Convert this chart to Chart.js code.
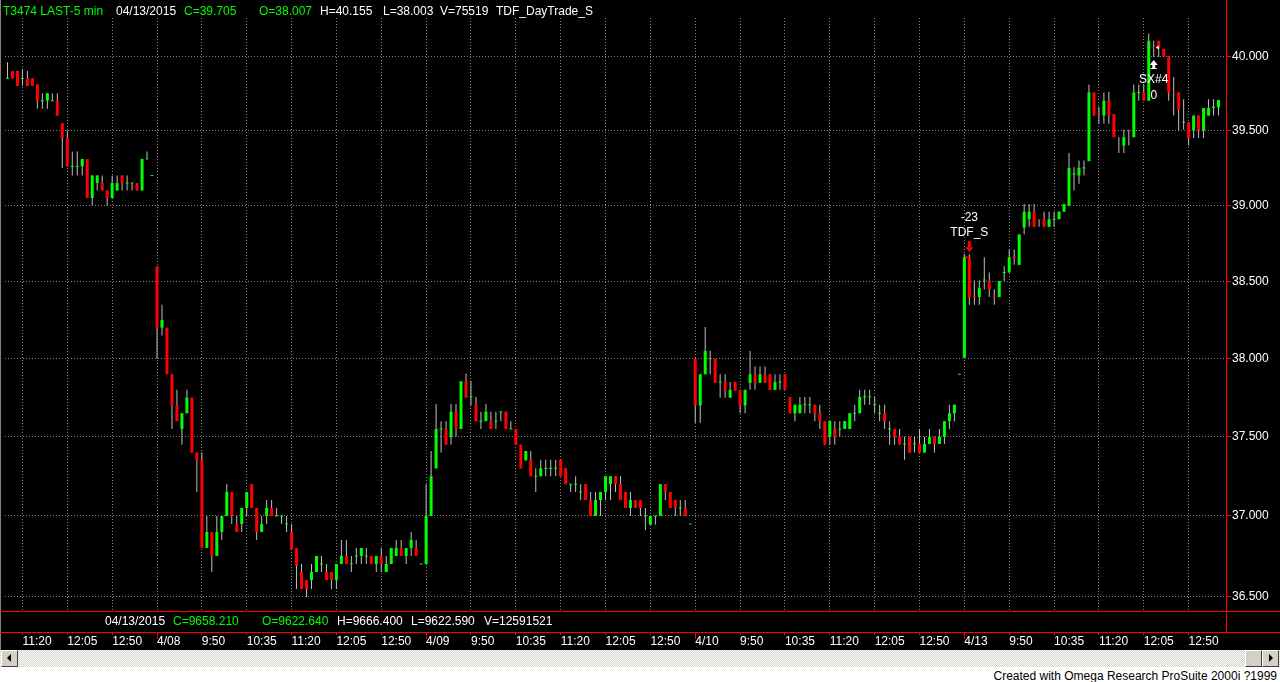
<!DOCTYPE html>
<html>
<head>
<meta charset="utf-8">
<title>T3474 LAST-5 min</title>
<script src="https://cdn.jsdelivr.net/npm/chart.js@4.4.1/dist/chart.umd.min.js"></script>
<style>
  body { margin: 0; background: #fff; font-family: "Liberation Sans", Arial, sans-serif; font-size: 12px; }
  #wrap { position: relative; width: 1280px; height: 682px; overflow: hidden; }
  #screen { position: absolute; left: 0; top: 0; width: 1280px; height: 650px; background: #000; }
  #priceChart { position: absolute; left: 0; top: 0; }
  .txt { position: absolute; line-height: 14px; white-space: nowrap; color: #fff; }
  .g { color: #00ff00; }
  .redh { position: absolute; left: 0; width: 1280px; height: 1px; background: #ff0000; }
  .redv { position: absolute; left: 1226px; top: 0; width: 1px; height: 633px; background: #ff0000; }
  .frame { position: absolute; left: 0; top: 0; width: 1px; height: 650px; background: #808080; }
  #scroll { position: absolute; left: 0; top: 650px; width: 1280px; height: 17px;
    background: repeating-conic-gradient(#d4d0c8 0 25%, #ffffff 0 50%) 0 0 / 2px 2px; }
  .btn { position: absolute; top: 0; width: 15px; height: 15px; background: #d4d0c8;
    border: 1px solid; border-color: #ffffff #404040 #404040 #ffffff; }
  .arrl { position: absolute; left: 5px; top: 3px; width: 0; height: 0; border-style: solid;
    border-width: 4px 4px 4px 0; border-color: transparent #000 transparent transparent; }
  .arrr { position: absolute; left: 6px; top: 3px; width: 0; height: 0; border-style: solid;
    border-width: 4px 0 4px 4px; border-color: transparent transparent transparent #000; }
  #credit { position: absolute; right: 3px; top: 669px; color: #000; line-height: 14px; white-space: nowrap; }
</style>
</head>
<body>
<div id="wrap">
  <div id="screen"></div>
  <canvas id="priceChart" width="1280" height="650"></canvas>
  <div class="frame"></div>
  <div class="redh" style="top:611px"></div>
  <div class="redh" style="top:632px"></div>
  <div class="redv"></div>

  <div class="txt g" style="left:3px;top:4px">T3474 LAST-5 min</div>
  <div class="txt" style="left:116px;top:4px">04/13/2015</div>
  <div class="txt g" style="left:184px;top:4px">C=39.705</div>
  <div class="txt g" style="left:259px;top:4px">O=38.007</div>
  <div class="txt" style="left:320px;top:4px">H=40.155</div>
  <div class="txt" style="left:383px;top:4px">L=38.003</div>
  <div class="txt" style="left:440px;top:4px">V=75519</div>
  <div class="txt" style="left:496px;top:4px">TDF_DayTrade_S</div>

  <div class="txt" style="left:105px;top:614px">04/13/2015</div>
  <div class="txt g" style="left:173px;top:614px">C=9658.210</div>
  <div class="txt g" style="left:262px;top:614px">O=9622.640</div>
  <div class="txt" style="left:337px;top:614px">H=9666.400</div>
  <div class="txt" style="left:411px;top:614px">L=9622.590</div>
  <div class="txt" style="left:484px;top:614px">V=12591521</div>

  <div id="scroll">
    <div class="btn" style="left:1px"><div class="arrl"></div></div>
    <div class="btn" style="left:1245px"></div>
    <div class="btn" style="left:1262px"><div class="arrr"></div></div>
  </div>
  <div id="credit">Created with Omega Research ProSuite 2000i ?1999</div>
</div>

<script>
// 5 minute bars (4/07 afternoon to 4/13)
const opens = [
  39.85, 39.90, 39.90, 39.85, 39.85, 39.85, 39.81, 39.70, 39.70, 39.70,
  39.70, 39.55, 39.45, 39.26, 39.26, 39.26, 39.31, 39.05, 39.15, 39.15,
  39.10, 39.05, 39.10, 39.20, 39.15, 39.15, 39.15, 39.10, 39.31, 39.20,
  38.60, 38.20, 38.20, 37.90, 37.70, 37.55, 37.65, 37.75, 37.40, 37.35,
  36.80, 36.90, 36.75, 36.90, 37.00, 37.15, 36.95, 36.95, 37.05, 37.20,
  37.05, 36.90, 37.00, 37.05, 37.00, 37.00, 36.95, 36.90, 36.80, 36.65,
  36.60, 36.60, 36.65, 36.70, 36.65, 36.65, 36.60, 36.70, 36.75, 36.70,
  36.75, 36.75, 36.75, 36.75, 36.70, 36.75, 36.65, 36.70, 36.75, 36.80,
  36.75, 36.80, 36.80, 36.70,
  36.70, 37.00, 37.30, 37.55, 37.55, 37.50, 37.66, 37.55, 37.855, 37.755,
  37.71, 37.60, 37.60, 37.60, 37.60, 37.66, 37.66, 37.55, 37.55, 37.45,
  37.35, 37.355, 37.25, 37.25, 37.30, 37.30, 37.30, 37.355, 37.30, 37.20,
  37.20, 37.15, 37.20, 37.10, 37.00, 37.10, 37.15, 37.20, 37.25, 37.20,
  37.15, 37.05, 37.10, 37.10, 37.00, 36.945, 37.00, 37.00, 37.20, 37.15,
  37.10, 37.05, 37.05, 36.95,
  38.00, 37.70, 37.90, 38.00, 38.00, 37.85, 37.85, 37.75, 37.85, 37.80,
  37.70, 37.845, 37.90, 37.845, 37.90, 37.90, 37.80, 37.85, 37.90, 37.755,
  37.65, 37.65, 37.705, 37.705, 37.705, 37.65, 37.60, 37.50, 37.55, 37.55,
  37.55, 37.55, 37.65, 37.65, 37.755, 37.755, 37.705, 37.65, 37.65, 37.55,
  37.55, 37.50, 37.455, 37.50, 37.455, 37.455, 37.40, 37.455, 37.50, 37.455,
  37.50, 37.60, 37.65, 37.90,
  38.007, 38.66, 38.41, 38.40, 38.51, 38.505, 38.41, 38.40, 38.56, 38.56,
  38.665, 38.61, 38.855, 38.91, 38.96, 38.91, 38.91, 38.86, 38.91, 38.91,
  38.96, 39.00, 39.21, 39.20, 39.25, 39.295, 39.755, 39.605, 39.60, 39.70,
  39.61, 39.405, 39.40, 39.457, 39.455, 39.755, 39.755, 39.70, 40.06, 40.105,
  40.05, 40.00, 39.76, 39.755, 39.555, 39.555, 39.50, 39.60, 39.50, 39.60,
  39.655, 39.655
];
const highs = [
  39.96, 39.90, 39.90, 39.91, 39.90, 39.85, 39.81, 39.75, 39.75, 39.75,
  39.75, 39.55, 39.50, 39.36, 39.36, 39.31, 39.31, 39.20, 39.20, 39.20,
  39.10, 39.20, 39.20, 39.20, 39.20, 39.15, 39.15, 39.31, 39.36, 39.20,
  38.60, 38.35, 38.20, 37.90, 37.80, 37.65, 37.80, 37.75, 37.40, 37.40,
  37.00, 36.90, 37.00, 37.00, 37.20, 37.15, 37.00, 37.05, 37.15, 37.20,
  37.05, 37.00, 37.10, 37.10, 37.05, 37.00, 37.00, 36.95, 36.80, 36.70,
  36.60, 36.70, 36.75, 36.75, 36.70, 36.65, 36.70, 36.85, 36.85, 36.75,
  36.80, 36.80, 36.80, 36.75, 36.75, 36.80, 36.75, 36.80, 36.85, 36.85,
  36.80, 36.90, 36.85, 36.70,
  37.20, 37.41, 37.71, 37.60, 37.60, 37.71, 37.71, 37.855, 37.905, 37.855,
  37.755, 37.66, 37.71, 37.66, 37.66, 37.66, 37.66, 37.60, 37.55, 37.45,
  37.41, 37.41, 37.30, 37.355, 37.355, 37.355, 37.355, 37.355, 37.30, 37.20,
  37.25, 37.20, 37.20, 37.15, 37.15, 37.15, 37.25, 37.25, 37.25, 37.25,
  37.15, 37.15, 37.10, 37.10, 37.05, 37.00, 37.00, 37.20, 37.20, 37.15,
  37.10, 37.10, 37.10, 36.95,
  38.00, 37.90, 38.205, 38.05, 38.00, 37.90, 37.90, 37.85, 37.85, 37.80,
  37.80, 38.05, 37.95, 37.95, 37.95, 37.90, 37.90, 37.90, 37.90, 37.755,
  37.705, 37.755, 37.755, 37.755, 37.705, 37.705, 37.60, 37.60, 37.60, 37.60,
  37.60, 37.65, 37.705, 37.80, 37.80, 37.80, 37.755, 37.705, 37.705, 37.60,
  37.55, 37.55, 37.50, 37.50, 37.50, 37.55, 37.50, 37.55, 37.50, 37.55,
  37.60, 37.705, 37.705, 37.90,
  38.68, 38.68, 38.51, 38.51, 38.66, 38.56, 38.45, 38.505, 38.60, 38.71,
  38.71, 38.81, 39.01, 39.01, 39.01, 38.91, 38.96, 38.96, 38.96, 38.96,
  39.01, 39.35, 39.255, 39.30, 39.30, 39.81, 39.755, 39.66, 39.755, 39.76,
  39.61, 39.455, 39.505, 39.505, 39.81, 39.81, 39.81, 40.155, 40.105, 40.105,
  40.05, 40.00, 39.86, 39.755, 39.71, 39.555, 39.60, 39.60, 39.65, 39.71,
  39.71, 39.705
];
const lows = [
  39.85, 39.85, 39.80, 39.80, 39.80, 39.80, 39.645, 39.645, 39.645, 39.70,
  39.60, 39.25, 39.26, 39.20, 39.20, 39.20, 39.05, 39.00, 39.10, 39.10,
  39.00, 39.05, 39.10, 39.10, 39.10, 39.10, 39.10, 39.10, 39.31, 39.20,
  38.00, 38.15, 37.90, 37.55, 37.60, 37.45, 37.65, 37.40, 37.15, 36.80,
  36.80, 36.65, 36.75, 36.85, 37.00, 36.95, 36.90, 36.90, 37.00, 37.05,
  36.85, 36.90, 36.95, 37.00, 37.00, 36.95, 36.90, 36.79, 36.545, 36.545,
  36.495, 36.545, 36.65, 36.65, 36.60, 36.545, 36.545, 36.70, 36.70, 36.65,
  36.70, 36.70, 36.70, 36.70, 36.65, 36.65, 36.65, 36.70, 36.75, 36.75,
  36.70, 36.75, 36.75, 36.70,
  36.70, 37.00, 37.30, 37.40, 37.45, 37.45, 37.50, 37.55, 37.75, 37.70,
  37.60, 37.55, 37.60, 37.55, 37.55, 37.60, 37.55, 37.55, 37.45, 37.30,
  37.35, 37.25, 37.15, 37.25, 37.25, 37.25, 37.25, 37.25, 37.20, 37.15,
  37.15, 37.10, 37.10, 37.00, 37.00, 37.00, 37.10, 37.10, 37.15, 37.10,
  37.05, 37.00, 37.05, 37.00, 36.91, 36.945, 36.945, 37.00, 37.10, 37.05,
  37.00, 37.00, 37.00, 36.95,
  37.59, 37.59, 37.90, 37.90, 37.845, 37.75, 37.75, 37.75, 37.795, 37.65,
  37.65, 37.80, 37.80, 37.845, 37.845, 37.80, 37.80, 37.80, 37.80, 37.65,
  37.60, 37.65, 37.65, 37.65, 37.60, 37.55, 37.45, 37.45, 37.45, 37.50,
  37.55, 37.55, 37.60, 37.65, 37.705, 37.705, 37.65, 37.60, 37.55, 37.45,
  37.45, 37.45, 37.355, 37.40, 37.40, 37.40, 37.40, 37.455, 37.40, 37.455,
  37.455, 37.55, 37.60, 37.90,
  38.003, 38.35, 38.35, 38.35, 38.45, 38.40, 38.35, 38.40, 38.505, 38.56,
  38.61, 38.61, 38.81, 38.86, 38.86, 38.86, 38.86, 38.86, 38.86, 38.91,
  38.96, 39.00, 39.10, 39.145, 39.20, 39.295, 39.60, 39.545, 39.545, 39.545,
  39.455, 39.35, 39.35, 39.40, 39.455, 39.70, 39.70, 39.70, 39.995, 39.995,
  39.995, 39.70, 39.60, 39.50, 39.505, 39.40, 39.45, 39.45, 39.45, 39.60,
  39.60, 39.60
];
const closes = [
  39.85, 39.85, 39.80, 39.85, 39.80, 39.80, 39.70, 39.70, 39.75, 39.70,
  39.60, 39.45, 39.26, 39.26, 39.26, 39.31, 39.05, 39.20, 39.20, 39.10,
  39.05, 39.15, 39.15, 39.15, 39.15, 39.15, 39.10, 39.31, 39.31, 39.20,
  38.20, 38.25, 37.90, 37.70, 37.60, 37.65, 37.75, 37.40, 37.35, 36.80,
  36.90, 36.75, 36.90, 37.00, 37.15, 37.00, 36.90, 37.05, 37.15, 37.05,
  36.90, 36.95, 37.05, 37.00, 37.00, 37.00, 36.95, 36.79, 36.69, 36.545,
  36.545, 36.65, 36.75, 36.70, 36.60, 36.60, 36.70, 36.75, 36.70, 36.70,
  36.75, 36.80, 36.75, 36.70, 36.75, 36.70, 36.70, 36.80, 36.80, 36.75,
  36.80, 36.85, 36.75, 36.70,
  37.00, 37.25, 37.55, 37.55, 37.45, 37.66, 37.55, 37.855, 37.75, 37.755,
  37.60, 37.60, 37.66, 37.55, 37.60, 37.66, 37.55, 37.55, 37.45, 37.30,
  37.41, 37.25, 37.25, 37.30, 37.30, 37.30, 37.30, 37.25, 37.20, 37.20,
  37.20, 37.15, 37.10, 37.00, 37.10, 37.15, 37.25, 37.25, 37.20, 37.10,
  37.05, 37.10, 37.05, 37.05, 37.00, 37.00, 37.00, 37.20, 37.15, 37.05,
  37.05, 37.05, 37.00, 36.95,
  37.70, 37.90, 38.05, 38.00, 37.845, 37.85, 37.795, 37.80, 37.795, 37.70,
  37.80, 37.90, 37.845, 37.90, 37.845, 37.80, 37.85, 37.85, 37.80, 37.65,
  37.705, 37.705, 37.705, 37.705, 37.65, 37.60, 37.45, 37.60, 37.50, 37.55,
  37.60, 37.65, 37.65, 37.755, 37.755, 37.755, 37.705, 37.65, 37.60, 37.55,
  37.50, 37.45, 37.455, 37.40, 37.455, 37.40, 37.455, 37.50, 37.455, 37.50,
  37.60, 37.65, 37.705, 37.90,
  38.66, 38.395, 38.40, 38.46, 38.51, 38.45, 38.40, 38.505, 38.56, 38.66,
  38.655, 38.81, 38.96, 38.96, 38.86, 38.905, 38.86, 38.91, 38.91, 38.96,
  39.01, 39.25, 39.21, 39.25, 39.25, 39.755, 39.60, 39.60, 39.70, 39.60,
  39.455, 39.40, 39.455, 39.455, 39.755, 39.755, 39.70, 40.105, 40.055, 40.055,
  40.00, 39.755, 39.755, 39.64, 39.555, 39.45, 39.60, 39.50, 39.65, 39.65,
  39.655, 39.705
];

const days = ['4/07', '4/08', '4/09', '4/10', '4/13'];
const firstSlot = [24, 0, 0, 0, 0];   // first 5 min slot shown per day
const lastSlot = [53, 53, 53, 53, 52];
const priceTicks = [36.5, 37, 37.5, 38, 38.5, 39, 39.5, 40];

// strategy signals: entry above a bar, exit below a bar
const signals = [
  { bar: 193, side: 'above', color: '#ff0000', text: ['-23', 'TDF_S'] },
  { bar: 230, side: 'below', color: '#ffffff', text: ['SX#4', '0'] }
];

// categories, session starts 9:05, label every 45 min
const labels = [];
const tickText = {};
days.forEach((d, k) => {
  for (let s = firstSlot[k]; s <= lastSlot[k]; s++) {
    const m = 9 * 60 + 5 + s * 5;
    const t = Math.floor(m / 60) + ':' + String(m % 60).padStart(2, '0');
    if (s % 9 === 0) tickText[labels.length] = s === 0 ? d : t;
    labels.push(d + ' ' + t);
  }
});

const wicks = lows.map((l, i) => [l, highs[i]]);
const bodies = opens.map((o, i) => o === closes[i] ? null : [o, closes[i]]);
const flats = opens.map((o, i) => o === closes[i] ? o : null);

const marksPlugin = {
  id: 'marks',
  afterDatasetsDraw(chart) {
    const xs = chart.scales.x, ys = chart.scales.y, c = chart.ctx;
    c.save();
    c.font = '12px "Liberation Sans", Arial, sans-serif';
    c.textAlign = 'center';
    c.textBaseline = 'middle';
    signals.forEach(sg => {
      const px = xs.getPixelForValue(sg.bar);
      const pe = ys.getPixelForValue(opens[sg.bar]);
      c.fillStyle = sg.color;
      if (sg.side === 'above') {
        const tip = ys.getPixelForValue(highs[sg.bar]) - 2;
        c.fillRect(px - 1.5, tip - 11, 3, 6);
        c.beginPath();
        c.moveTo(px - 4, tip - 5); c.lineTo(px + 4, tip - 5); c.lineTo(px, tip);
        c.closePath(); c.fill();
        // fill marker
        c.beginPath();
        c.moveTo(px - 4, pe - 2); c.lineTo(px - 4, pe + 2); c.lineTo(px - 1, pe);
        c.closePath(); c.fill();
        c.fillStyle = '#ffffff';
        c.fillText(sg.text[1], px, tip - 19);
        c.fillText(sg.text[0], px, tip - 34);
      } else {
        const tip = ys.getPixelForValue(lows[sg.bar]) + 3;
        c.beginPath();
        c.moveTo(px, tip); c.lineTo(px - 4, tip + 5); c.lineTo(px + 4, tip + 5);
        c.closePath(); c.fill();
        c.fillRect(px - 1.5, tip + 5, 3, 4);
        c.fillRect(px - 3, tip + 8, 6, 1);
        c.beginPath();
        c.moveTo(px + 5, pe - 2); c.lineTo(px + 5, pe + 2); c.lineTo(px + 2, pe);
        c.closePath(); c.fill();
        c.fillStyle = '#ffffff';
        c.fillText(sg.text[0], px, tip + 20);
        c.fillText(sg.text[1], px, tip + 36);
      }
    });
    c.restore();
  },
  afterDraw(chart) {
    // little red ticks under the lower panel
    const xs = chart.scales.x, c = chart.ctx;
    c.save();
    c.strokeStyle = '#ff0000';
    c.lineWidth = 1;
    xs.ticks.forEach(t => {
      const px = Math.round(xs.getPixelForValue(t.value) - 0.5) + 0.5;
      const len = days.includes(tickText[t.value]) ? 6 : 2;
      c.beginPath();
      c.moveTo(px, 633);
      c.lineTo(px, 633 + len);
      c.stroke();
    });
    c.restore();
  }
};

Chart.defaults.font.family = '"Liberation Sans", Arial, sans-serif';
Chart.defaults.font.size = 12;
Chart.defaults.color = '#ffffff';

const ctx = document.getElementById('priceChart').getContext('2d');
const priceChart = new Chart(ctx, {
  type: 'bar',
  data: {
    labels: labels,
    datasets: [
      {
        type: 'line',
        label: 'flat',
        data: flats,
        showLine: false,
        pointStyle: 'line',
        pointRadius: 1.5,
        pointBorderColor: '#00ff00',
        pointBorderWidth: 1,
        order: 0
      },
      {
        label: 'body',
        data: bodies,
        backgroundColor: c => closes[c.dataIndex] < opens[c.dataIndex] ? '#ff0000' : '#00ff00',
        barThickness: 3,
        grouped: false,
        inflateAmount: 0,
        order: 1
      },
      {
        label: 'wick',
        data: wicks,
        backgroundColor: '#c0c0c0',
        barThickness: 1,
        grouped: false,
        inflateAmount: 0,
        order: 2
      }
    ]
  },
  options: {
    animation: false,
    responsive: false,
    devicePixelRatio: 1,
    layout: { padding: { left: 1, top: 18, right: 0, bottom: 0 } },
    plugins: {
      legend: { display: false },
      tooltip: { enabled: false }
    },
    scales: {
      x: {
        type: 'category',
        offset: true,
        grid: { offset: false, color: '#808080', drawTicks: true, tickLength: 23, tickColor: 'rgba(0,0,0,0)' },
        border: { display: false, dash: [1, 2] },
        ticks: {
          autoSkip: false,
          maxRotation: 0,
          align: 'start',
          padding: 0,
          color: '#ffffff',
          callback: v => tickText[v]
        },
        afterBuildTicks: axis => { axis.ticks = axis.ticks.filter(t => tickText[t.value] !== undefined); },
        afterFit: axis => {
          axis.height = 39;
          axis.paddingLeft = 0;
          axis.paddingRight = 0;
        }
      },
      y: {
        type: 'logarithmic',
        position: 'right',
        min: 36.4085,
        max: 40.2607,
        bounds: 'data',
        grid: { color: '#808080', tickColor: '#ff0000', tickLength: 5 },
        border: { display: false, dash: [1, 2] },
        ticks: { color: '#ffffff', padding: 1, callback: v => v.toFixed(3) },
        afterBuildTicks: axis => { axis.ticks = priceTicks.map(v => ({ value: v })); },
        afterFit: axis => {
          axis.width = 54;
          axis.paddingTop = 0;
          axis.paddingBottom = 0;
        }
      }
    }
  },
  plugins: [marksPlugin]
});
</script>
</body>
</html>
